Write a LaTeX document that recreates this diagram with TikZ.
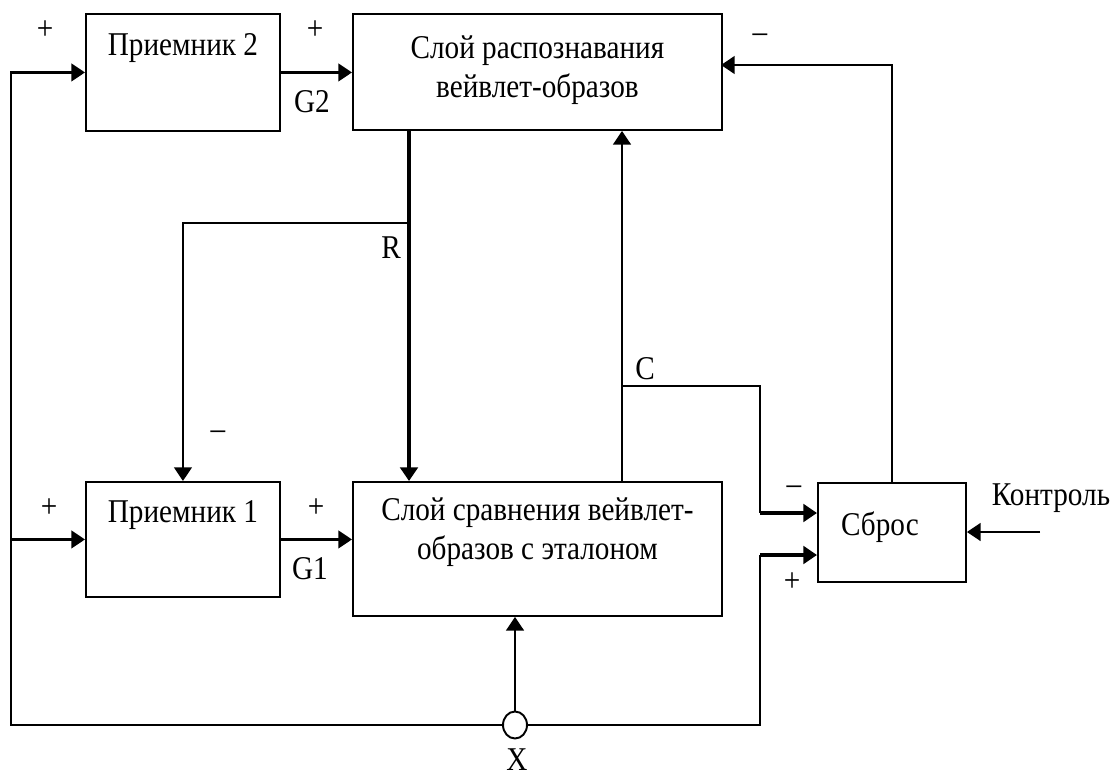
\documentclass[tikz,border=0pt]{standalone}
\usepackage{fontspec}
\setmainfont{Liberation Serif}[FakeStretch=0.88]
\usepackage{tikz}
\usetikzlibrary{arrows.meta,positioning,shapes.geometric}
\tikzset{
  blk/.style={rectangle, draw, line width=1.1pt, anchor=north west, inner sep=0pt},
  txt/.style={anchor=north, inner sep=0pt, align=center},
  ln/.style={line width=1.4pt},
  arr/.style={line width=1.6pt, -{Triangle[length=7.8pt,width=10pt]}},
  tkarr/.style={line width=2.6pt, -{Triangle[length=7.8pt,width=10pt]}},
  sgn/.style={inner sep=0pt},
}

\begin{document}
\begin{tikzpicture}[x=0.02cm, y=-0.02cm, font=\fontsize{18.9}{22.7}\selectfont]
        \useasboundingbox (0,0) rectangle (1116,777);

        \node[blk, minimum width=3.88cm, minimum height=2.34cm, label={[txt, yshift=-0.4cm]north:{Приемник 2}}] (pr2) at (85,13) {};
        \node[blk, minimum width=7.38cm, minimum height=2.32cm, label={[txt, yshift=-0.44cm]north:{Слой распознавания\\вейвлет-образов}}] (sr) at (352,13) {};
        \node[blk, minimum width=3.88cm, minimum height=2.30cm, label={[txt, yshift=-0.38cm]north:{Приемник 1}}] (pr1) at (85,481) {};
        \node[blk, minimum width=7.38cm, minimum height=2.68cm, label={[txt, yshift=-0.32cm]north:{Слой сравнения вейвлет-\\образов с эталоном}}] (ss) at (352,481) {};
        \node[blk, minimum width=2.96cm, minimum height=1.98cm, label={[txt, yshift=-0.58cm, xshift=-0.24cm]north:{Сброс}}] (sbr) at (817,482) {};
        \node[ellipse, draw, line width=1.1pt, minimum width=0.48cm, minimum height=0.54cm, inner sep=0pt] (xin) at (515,725) {};

        \coordinate (bl) at (11,725);
        \coordinate (br) at (760,725);
        \coordinate (rj) at (409,223);
        \coordinate (cj) at (622,386);
        \coordinate (sbm) at (817,513);
        \coordinate (sbp) at (817,555);
        \coordinate (fbk) at (721,65);
        \coordinate (ctl) at (1040,532);

        \draw[arr] (xin.west) -- (bl) |- (pr2.west);
        \draw[arr] (bl |- pr1.west) -- (pr1.west);
        \draw[ln] (xin.east) -- (br) -- (br |- sbp);
        \draw[tkarr] (br |- sbp) -- (sbp);
        \draw[arr] (pr2.east) -- (sr.west |- pr2.east);
        \draw[arr] (pr1.east) -- (ss.west |- pr1.east);
        \draw[tkarr] (sr.south -| rj) -- (ss.north -| rj);
        \draw[arr] (rj) -| (pr1.north);
        \draw[arr] (ss.north -| cj) -- (sr.south -| cj);
        \draw[ln] (cj) -| (br |- sbm);
        \draw[tkarr] (br |- sbm) -- (sbm);
        \draw[arr] (sbr.north) |- (fbk);
        \draw[arr] (ctl) -- (sbr.east |- ctl);
        \draw[arr] (xin.north) -- (ss.south -| xin.north);

        \node[sgn] (p1) at (45,30) {+};
        \node[sgn] (p2) at (315,30) {+};
        \node[sgn] (g2) at (312,102) {G2};
        \node[sgn] (m1) at (760,38) {–};
        \node[sgn] (rl) at (391,248) {R};
        \node[sgn] (cl) at (645,369) {C};
        \node[sgn] (m2) at (218,435) {–};
        \node[sgn] (p3) at (49,508) {+};
        \node[sgn] (p4) at (316,508) {+};
        \node[sgn] (g1) at (310,569) {G1};
        \node[sgn] (m3) at (794,490) {–};
        \node[sgn] (p5) at (792,582) {+};
        \node[sgn] (xl) at (517,760) {X};
        \node[sgn, anchor=base] (ctrl) at (1051,505) {Контроль};
\end{tikzpicture}
\end{document}
